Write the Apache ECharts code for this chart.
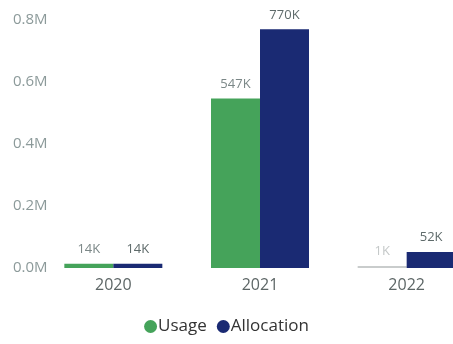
<!DOCTYPE html>
<html>
<head>
<meta charset="utf-8">
<script src="https://cdn.jsdelivr.net/npm/echarts@6/dist/echarts.min.js"></script>
<style>
  html, body { margin: 0; padding: 0; background: #fff; }
  #chart { width: 453px; height: 344px; }
</style>
</head>
<body>
<div id="chart"></div>
<script>
// Yearly usage versus allocation
const years = ['2020', '2021', '2022'];
const usage = [14000, 547000, 1000];
const allocation = [14000, 770000, 52000];
const yTicks = [0, 200000, 400000, 600000, 800000];

const FONT = '"Open Sans", "Noto Sans", sans-serif';

function fmtK(v) { return Math.round(v / 1000) + 'K'; }

const usageData = usage.map((v, i) => {
  // the last year's usage is shown dimmed
  if (i === 2) {
    return { value: v, itemStyle: { color: '#c9cccc' }, label: { color: '#c4c8c8' } };
  }
  return v;
});

const chart = echarts.init(document.getElementById('chart'));
chart.setOption({
  animation: false,
  textStyle: { fontFamily: FONT },
  grid: { left: 40, top: 20, width: 440, height: 248, outerBoundsMode: 'none' },
  legend: {
    bottom: 4,
    left: 'center',
    icon: 'circle',
    itemWidth: 13,
    itemHeight: 13,
    itemGap: 10,
    textStyle: { fontFamily: FONT, fontSize: 17, color: '#333', padding: [0, 0, 0, -4] },
    data: ['Usage', 'Allocation']
  },
  xAxis: {
    type: 'category',
    data: years,
    axisLine: { show: false },
    axisTick: { show: false },
    axisLabel: { margin: 9, fontSize: 16, color: '#5d6666', fontFamily: FONT }
  },
  yAxis: {
    type: 'value',
    min: 0,
    max: yTicks[yTicks.length - 1],
    interval: yTicks[1] - yTicks[0],
    splitLine: { show: false },
    axisLine: { show: false },
    axisTick: { show: false },
    axisLabel: {
      align: 'left',
      margin: 27,
      fontSize: 15,
      color: '#8c9a9a',
      fontFamily: FONT,
      formatter: v => (v / 1000000).toFixed(1) + 'M'
    }
  },
  series: [
    {
      name: 'Usage',
      type: 'bar',
      barWidth: 49,
      barGap: '0%',
      barMinHeight: 2,
      itemStyle: { color: '#45a35a' },
      label: {
        show: true, position: 'top', distance: 8,
        fontSize: 13, color: '#7b8787', fontFamily: FONT,
        formatter: p => fmtK(p.value)
      },
      data: usageData
    },
    {
      name: 'Allocation',
      type: 'bar',
      barWidth: 49,
      barGap: '0%',
      itemStyle: { color: '#1a2a73' },
      label: {
        show: true, position: 'top', distance: 8,
        fontSize: 13, color: '#5e6a6a', fontFamily: FONT,
        formatter: p => fmtK(p.value)
      },
      data: allocation
    }
  ]
});
</script>
</body>
</html>
